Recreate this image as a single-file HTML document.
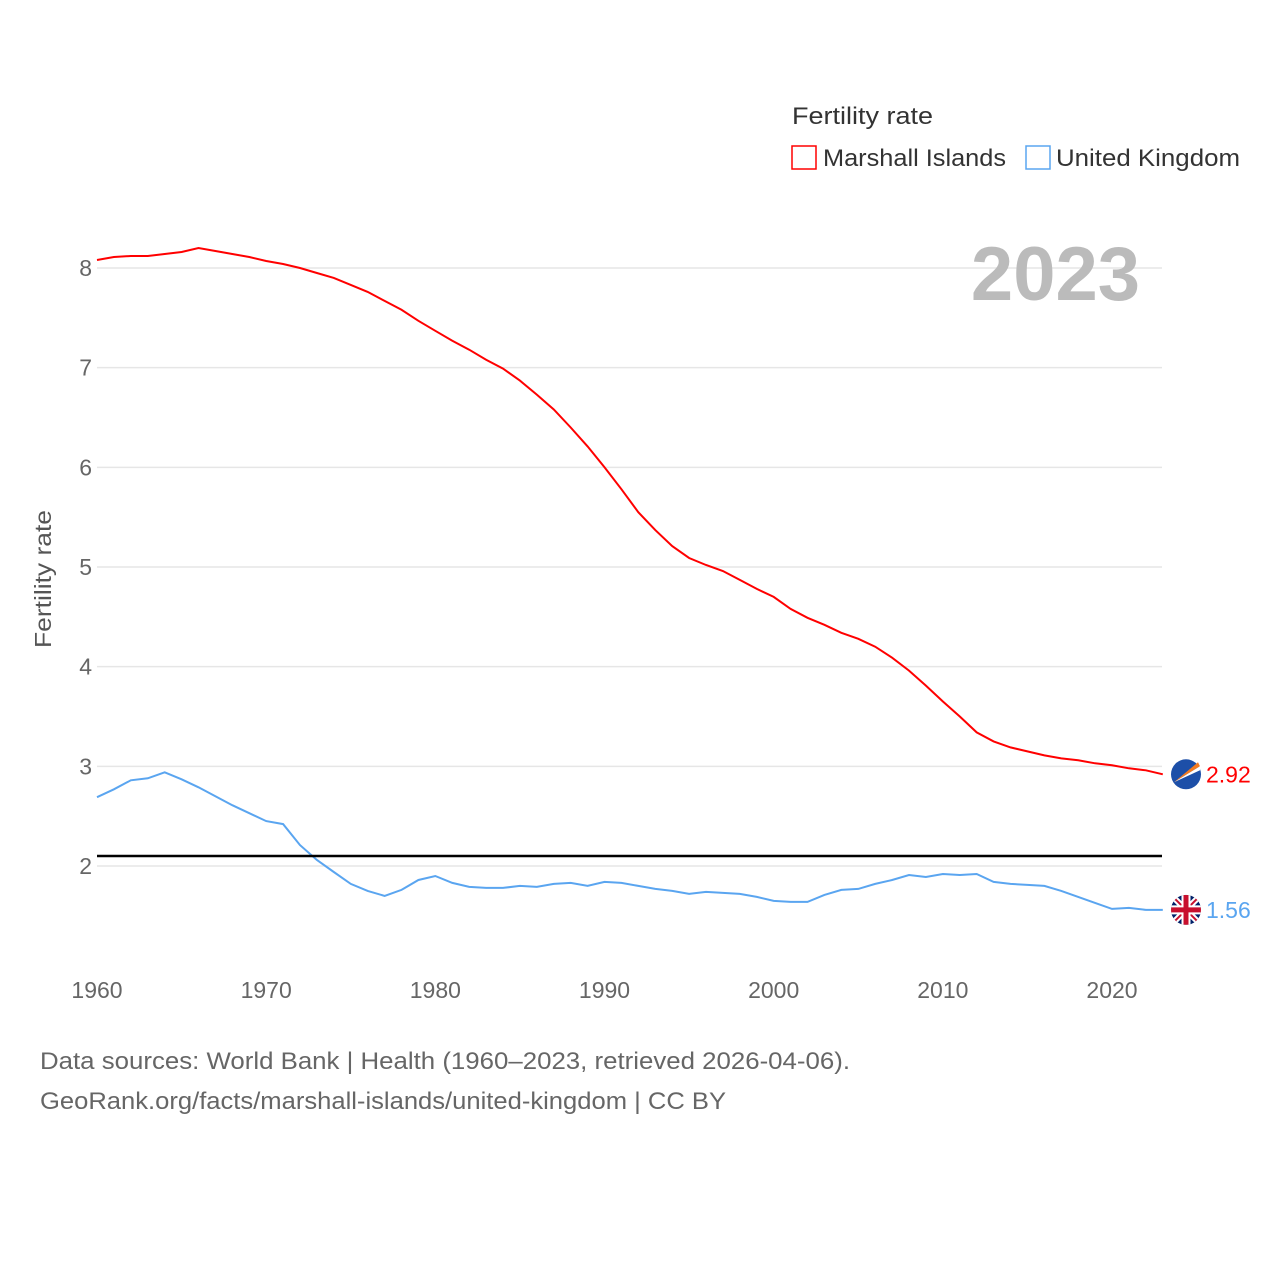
<!DOCTYPE html>
<html><head><meta charset="utf-8"><style>
body{margin:0;background:#fff;font-family:"Liberation Sans",sans-serif;}
svg text{font-family:"Liberation Sans",sans-serif;}
</style></head><body>
<svg id="chart" width="1280" height="1280" viewBox="0 0 1280 1280" xmlns="http://www.w3.org/2000/svg">
<rect width="1280" height="1280" fill="#fff"/>
<g id="grid"></g>
<g id="yt"></g>
<g id="xt"></g>
<text transform="translate(51,579) rotate(-90)" text-anchor="middle" font-size="23" fill="#555" textLength="138" lengthAdjust="spacingAndGlyphs">Fertility rate</text>
<text x="1140" y="300" text-anchor="end" font-size="76" font-weight="bold" fill="#bbb">2023</text>
<g>
<text x="792" y="124" font-size="24" fill="#333" textLength="141" lengthAdjust="spacingAndGlyphs">Fertility rate</text>
<g><rect x="792" y="146" width="24" height="23" fill="none" stroke="#f00" stroke-width="1.5"/><text x="823" y="166" font-size="24" fill="#333" textLength="183" lengthAdjust="spacingAndGlyphs">Marshall Islands</text></g>
<g><rect x="1026" y="146" width="24" height="23" fill="none" stroke="#5aa5f0" stroke-width="1.5"/><text x="1056" y="166" font-size="24" fill="#333" textLength="184" lengthAdjust="spacingAndGlyphs">United Kingdom</text></g>
</g>
<path id="mh" fill="none" stroke="#f00" stroke-width="2"/>
<path id="uk" fill="none" stroke="#5aa5f0" stroke-width="2"/>
<line id="ref" stroke="#000" stroke-width="2.5"/>
<g id="ends"></g>
<text x="40" y="1069" font-size="24" fill="#666" textLength="810" lengthAdjust="spacingAndGlyphs">Data sources: World Bank | Health (1960–2023, retrieved 2026-04-06).</text>
<text x="40" y="1109" font-size="24" fill="#666" textLength="686" lengthAdjust="spacingAndGlyphs">GeoRank.org/facts/marshall-islands/united-kingdom | CC BY</text>
</svg>
<script>
const years=[];for(let y=1960;y<=2023;y++)years.push(y);
const marshall=[8.08,8.11,8.12,8.12,8.14,8.16,8.20,8.17,8.14,8.11,8.07,8.04,8.00,7.95,7.90,7.83,7.76,7.67,7.58,7.47,7.37,7.27,7.18,7.08,6.99,6.87,6.73,6.58,6.40,6.21,6.00,5.78,5.55,5.37,5.21,5.09,5.02,4.96,4.87,4.78,4.70,4.58,4.49,4.42,4.34,4.28,4.20,4.09,3.96,3.81,3.65,3.50,3.34,3.25,3.19,3.15,3.11,3.08,3.06,3.03,3.01,2.98,2.96,2.92];
const uk=[2.69,2.77,2.86,2.88,2.94,2.87,2.79,2.70,2.61,2.53,2.45,2.42,2.21,2.06,1.94,1.82,1.75,1.70,1.76,1.86,1.90,1.83,1.79,1.78,1.78,1.80,1.79,1.82,1.83,1.80,1.84,1.83,1.80,1.77,1.75,1.72,1.74,1.73,1.72,1.69,1.65,1.64,1.64,1.71,1.76,1.77,1.82,1.86,1.91,1.89,1.92,1.91,1.92,1.84,1.82,1.81,1.80,1.75,1.69,1.63,1.57,1.58,1.56,1.56];
const yTicks=[2,3,4,5,6,7,8];
const xTicks=[1960,1970,1980,1990,2000,2010,2020];
const refValue=2.1;
const X=v=>97+(v-1960)*16.917;
const Y=v=>866-(v-2)*99.67;
const NS="http://www.w3.org/2000/svg";
function mk(tag,attrs,parent,text){const e=document.createElementNS(NS,tag);for(const k in attrs)e.setAttribute(k,attrs[k]);if(text!==undefined)e.textContent=text;parent.appendChild(e);return e;}
const grid=document.getElementById('grid'),yt=document.getElementById('yt'),xt=document.getElementById('xt');
yTicks.forEach(t=>{
 const l=mk('line',{x1:97,x2:1162,y1:Y(t),y2:Y(t),stroke:'#e6e6e6','stroke-width':1.5},grid);
 
 
 const tx=mk('text',{x:92,y:Y(t)+8,'text-anchor':'end','font-size':23,fill:'#666'},yt,t);
 
 
});
xTicks.forEach(t=>{
 const tx=mk('text',{x:X(t),y:998,'text-anchor':'middle','font-size':23,fill:'#666'},xt,t);
 
 
});
const path=a=>a.map((v,i)=>(i?'L':'M')+X(years[i]).toFixed(1)+','+Y(v).toFixed(1)).join('');
document.getElementById('mh').setAttribute('d',path(marshall));
document.getElementById('uk').setAttribute('d',path(uk));
const ref=document.getElementById('ref');
ref.setAttribute('x1',97);ref.setAttribute('x2',1162);ref.setAttribute('y1',Y(refValue));ref.setAttribute('y2',Y(refValue));
const ends=document.getElementById('ends');
const lastM=marshall[marshall.length-1],lastU=uk[uk.length-1];
const fm=mk('g',{},ends);


mk('circle',{cx:1186,cy:Y(lastM),r:15,fill:'#1d4fa8'},fm);
mk('path',{d:`M1174 ${Y(lastM)+8} L1198 ${Y(lastM)-12} L1200 ${Y(lastM)-8} Z`,fill:'#f47b20'},fm);
mk('path',{d:`M1174 ${Y(lastM)+8} L1200 ${Y(lastM)-8} L1200 ${Y(lastM)-4} Z`,fill:'#fff'},fm);
const tm=mk('text',{x:1206,y:Y(lastM)+8,'font-size':23,fill:'#f00'},ends,lastM.toFixed(2));


const yu=Y(lastU);
const fu=mk('g',{},ends);


mk('clipPath',{id:'cu'},fu);
mk('circle',{cx:1186,cy:yu,r:15},document.getElementById('cu'));
const gu=mk('g',{'clip-path':'url(#cu)'},fu);
mk('rect',{x:1171,y:yu-15,width:30,height:30,fill:'#012169'},gu);
mk('path',{d:`M1171 ${yu-15}L1201 ${yu+15}M1201 ${yu-15}L1171 ${yu+15}`,stroke:'#fff','stroke-width':6},gu);
mk('path',{d:`M1171 ${yu-15}L1201 ${yu+15}M1201 ${yu-15}L1171 ${yu+15}`,stroke:'#c8102e','stroke-width':2},gu);
mk('path',{d:`M1186 ${yu-15}V${yu+15}M1171 ${yu}H1201`,stroke:'#fff','stroke-width':9},gu);
mk('path',{d:`M1186 ${yu-15}V${yu+15}M1171 ${yu}H1201`,stroke:'#c8102e','stroke-width':5},gu);
const tu=mk('text',{x:1206,y:yu+8,'font-size':23,fill:'#5aa5f0'},ends,lastU.toFixed(2));


</script>
</body></html>
